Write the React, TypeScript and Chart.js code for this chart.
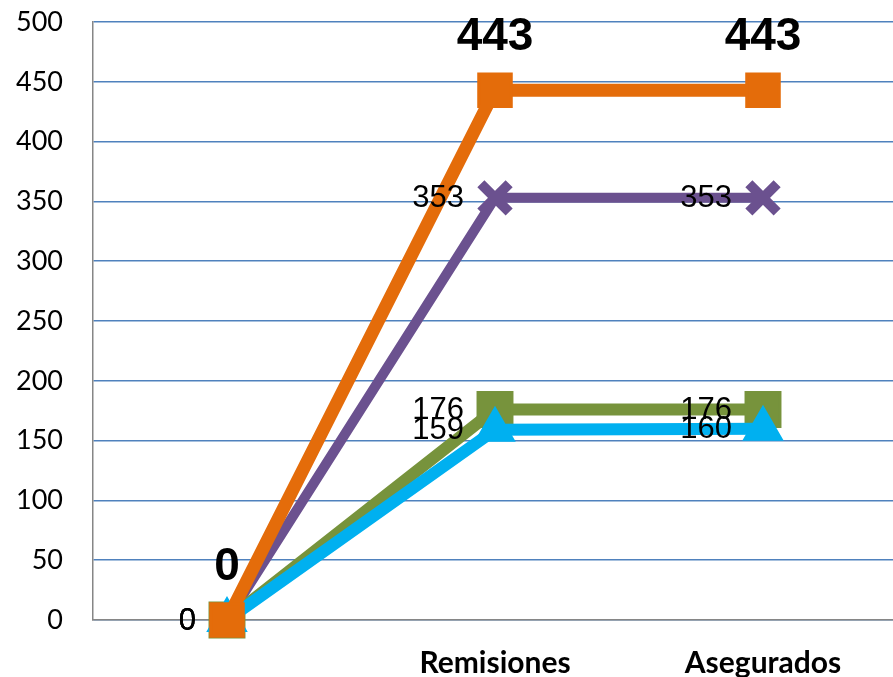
import React, { useEffect, useRef } from "react";
import { Chart, registerables } from "chart.js";

Chart.register(...registerables);

const categories = ["", "Remisiones", "Asegurados"];
const seriesOrange = [0, 443, 443];
const seriesCyan = [0, 159, 160];
const seriesGreen = [0, 176, 176];
const seriesPurple = [0, 353, 353];
const yTicks = [0, 50, 100, 150, 200, 250, 300, 350, 400, 450, 500];

const labelPlugin = {
  id: "pointLabels",
  afterDatasetsDraw(chart: any) {
    const ctx = chart.ctx;
    ctx.save();
    chart.data.datasets.forEach((ds: any, i: number) => {
      const meta = chart.getDatasetMeta(i);
      meta.data.forEach((pt: any, j: number) => {
        const v = ds.data[j];
        ctx.fillStyle = "#000";
        if (ds.labelStyle === "bold") {
          ctx.font = "bold 46px 'Liberation Sans', Arial, sans-serif";
          ctx.textAlign = "center";
          ctx.textBaseline = "middle";
          ctx.fillText(String(v), pt.x, pt.y - 53);
        } else {
          ctx.font = "31px 'Liberation Sans', Arial, sans-serif";
          ctx.textAlign = "right";
          ctx.textBaseline = "middle";
          ctx.fillText(String(v), pt.x - 31, pt.y + 1);
        }
      });
    });
    ctx.restore();
  },
};

export default function App() {
  const ref = useRef<HTMLCanvasElement>(null);
  useEffect(() => {
    const chart = new Chart(ref.current!, {
      type: "line",
      data: {
        labels: categories,
        datasets: [
          {
            data: seriesOrange,
            borderColor: "#E46C0A",
            backgroundColor: "#E46C0A",
            borderWidth: 13,
            pointStyle: "rect",
            pointRadius: 23,
            pointBorderWidth: 3,
            labelStyle: "bold",
            clip: false,
          } as any,
          {
            data: seriesCyan,
            borderColor: "#00B0F0",
            backgroundColor: "#00B0F0",
            borderWidth: 12,
            pointStyle: "triangle",
            pointRadius: 19,
            pointBorderWidth: 5,
            borderJoinStyle: "round",
            clip: false,
          } as any,
          {
            data: seriesGreen,
            borderColor: "#77933C",
            backgroundColor: "#77933C",
            borderWidth: 12,
            pointStyle: "rect",
            pointRadius: 24,
            pointBorderWidth: 3,
            clip: false,
          } as any,
          {
            data: seriesPurple,
            borderColor: "#6B518F",
            backgroundColor: "#6B518F",
            borderWidth: 10,
            pointStyle: "crossRot",
            pointRadius: 20,
            pointBorderWidth: 10,
            clip: false,
          } as any,
        ],
      },
      options: {
        animation: false,
        responsive: false,
        layout: { autoPadding: false, padding: { top: 22, right: 3, left: 0, bottom: 0 } },
        plugins: { legend: { display: false }, tooltip: { enabled: false } },
        scales: {
          x: {
            offset: true,
            grid: { display: false },
            border: { display: true, color: "#868686", width: 1.5 },
            ticks: {
              color: "#000",
              font: { family: "Lato, 'Open Sans', sans-serif", weight: "bold", size: 30 },
              padding: 17,
              maxRotation: 0,
              autoSkip: false,
            },
            afterFit(scale: any) {
              scale.height = 57;
              scale.paddingLeft = 0;
              scale.paddingRight = 0;
            },
          },
          y: {
            min: 0,
            max: 500,
            afterBuildTicks(scale: any) {
              scale.ticks = yTicks.map((v) => ({ value: v }));
            },
            grid: { color: "#4F81BD", lineWidth: 1.5, drawTicks: false },
            border: { display: true, color: "#868686", width: 1.5 },
            ticks: {
              color: "#000",
              font: { family: "Lato, 'Open Sans', sans-serif", size: 27 },
              padding: 30,
            },
            afterFit(scale: any) {
              scale.width = 93;
              scale.paddingTop = 0;
              scale.paddingBottom = 0;
            },
          },
        },
      },
      plugins: [labelPlugin],
    });
    return () => chart.destroy();
  }, []);
  return (
    <div style={{ position: "fixed", left: 0, top: 0, width: 893, height: 677, overflow: "hidden", background: "#fff" }}>
      <canvas ref={ref} width={900} height={677} style={{ display: "block" }} />
    </div>
  );
}
